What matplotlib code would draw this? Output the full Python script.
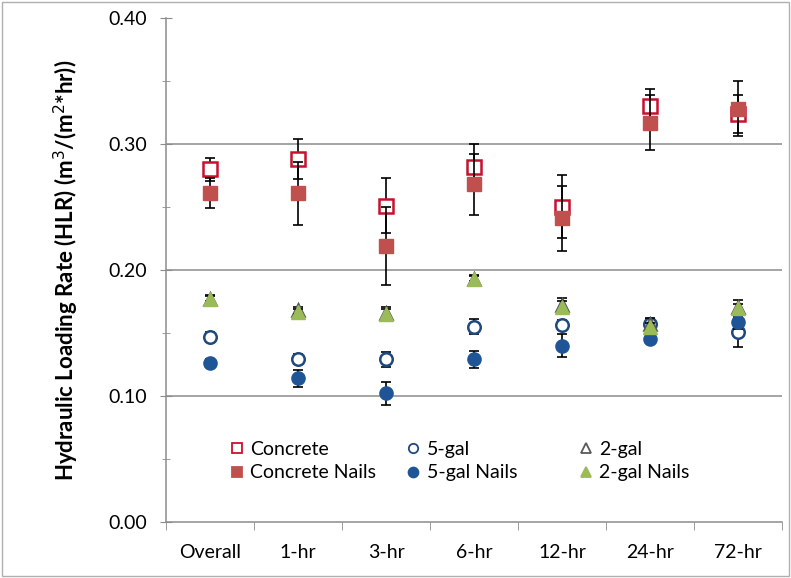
import numpy as np
import matplotlib.pyplot as plt
from matplotlib.lines import Line2D
from matplotlib.patches import Rectangle

plt.rcParams['font.family'] = ['Lato', 'DejaVu Sans']

cats = ['Overall', '1-hr', '3-hr', '6-hr', '12-hr', '24-hr', '72-hr']

concrete = [0.280, 0.288, 0.251, 0.282, 0.250, 0.330, 0.324]
concrete_err = [0.009, 0.016, 0.022, 0.018, 0.025, 0.014, 0.015]
gal5 = [0.147, 0.129, 0.129, 0.155, 0.156, 0.157, 0.151]
gal5_err = [0.004, 0.004, 0.006, 0.006, 0.004, 0.004, 0.012]
gal2 = [0.177, 0.168, 0.166, 0.193, 0.172, 0.157, 0.171]
gal2_err = [0.003, 0.003, 0.005, 0.003, 0.006, 0.005, 0.005]
concrete_nails = [0.261, 0.261, 0.219, 0.268, 0.241, 0.317, 0.328]
concrete_nails_err = [0.012, 0.025, 0.031, 0.024, 0.026, 0.022, 0.022]
gal5_nails = [0.126, 0.114, 0.102, 0.129, 0.140, 0.145, 0.159]
gal5_nails_err = [0.003, 0.007, 0.009, 0.007, 0.009, 0.003, 0.006]
gal2_nails = [0.177, 0.167, 0.165, 0.193, 0.171, 0.155, 0.170]
gal2_nails_err = [0.002, 0.002, 0.004, 0.002, 0.004, 0.003, 0.003]

yticks = [0.0, 0.1, 0.2, 0.3, 0.4]
grid_vals = [0.1, 0.2, 0.3]

fig = plt.figure(figsize=(7.91, 5.78), dpi=100)
ax = fig.add_axes([0.2099, 0.0969, 0.7787, 0.872])
fig.patches.append(Rectangle((0.003, 0.003), 0.994, 0.994, transform=fig.transFigure,
                             fill=False, edgecolor='#b0b0b0', lw=1))

x = np.arange(len(cats))
gridc = '#8c8c8c'
for g in grid_vals:
    ax.axhline(g, color=gridc, lw=1.1, zorder=0)

# series: (values, err, marker, size, face, edge)
series = [
    (concrete, concrete_err, 's', 10.5, 'white', '#C8102E', 'Concrete'),
    (gal5, gal5_err, 'o', 9, 'white', '#1F497D', '5-gal'),
    (gal2, gal2_err, '^', 9, 'white', '#595959', '2-gal'),
    (concrete_nails, concrete_nails_err, 's', 10.5, '#C0504D', '#C0504D', 'Concrete Nails'),
    (gal5_nails, gal5_nails_err, 'o', 9.5, '#1F5597', '#1F5597', '5-gal Nails'),
    (gal2_nails, gal2_nails_err, '^', 9.5, '#9BBB59', '#9BBB59', '2-gal Nails'),
]
handles = []
for i, (v, e, m, ms, fc, ec, lab) in enumerate(series):
    ax.errorbar(x, v, yerr=e, fmt='none', ecolor='black', elinewidth=1.2,
                capsize=3.5, capthick=1.2, zorder=2 + i)
    ax.plot(x, v, linestyle='none', marker=m, markersize=ms, markerfacecolor=fc,
            markeredgecolor=ec, markeredgewidth=1.8 if fc == 'white' else 1,
            zorder=2.5 + i)
    handles.append(Line2D([], [], linestyle='none', marker=m,
                          markersize=ms * 0.75, markerfacecolor=fc,
                          markeredgecolor=ec, markeredgewidth=1.3, label=lab))

ax.set_xlim(-0.5, 6.5)
ax.set_ylim(0, 0.4)
ax.set_xticks(x)
ax.set_xticklabels(cats, fontsize=14)
ax.set_xticks(np.arange(-0.5, 7, 1), minor=True)
ax.tick_params(axis='x', which='major', length=0, pad=16)
ax.tick_params(axis='x', which='minor', length=6, color=gridc, direction='out')
ax.set_yticks(yticks)
ax.set_yticklabels([f'{t:.2f}' for t in yticks], fontsize=14)
ax.set_yticks(np.arange(0.05, 0.4, 0.1), minor=True)
ax.tick_params(axis='y', which='major', length=9, color=gridc, direction='inout', pad=9)
ax.tick_params(axis='y', which='minor', length=6, color=gridc, direction='inout')
for s in ['top', 'right']:
    ax.spines[s].set_visible(False)
for s in ['left', 'bottom']:
    ax.spines[s].set_color(gridc)
    ax.spines[s].set_linewidth(1.1)

ax.set_ylabel('Hydraulic Loading Rate (HLR) (m$^3$/(m$^2$*hr))', fontsize=16,
              fontweight='bold', labelpad=20)

# legend in three columns
col_x = [0.083, 0.370, 0.650]
pairs = [(0, 3), (1, 4), (2, 5)]
legs = []
for cx, (a, b) in zip(col_x, pairs):
    leg = ax.legend(handles=[handles[a], handles[b]], loc='lower left',
                    bbox_to_anchor=(cx, 0.065), frameon=False, fontsize=14,
                    handletextpad=0.1, labelspacing=0.35, handlelength=1.2,
                    borderaxespad=0)
    legs.append(leg)
for leg in legs[:-1]:
    ax.add_artist(leg)

fig.savefig('out.png', dpi=100)
